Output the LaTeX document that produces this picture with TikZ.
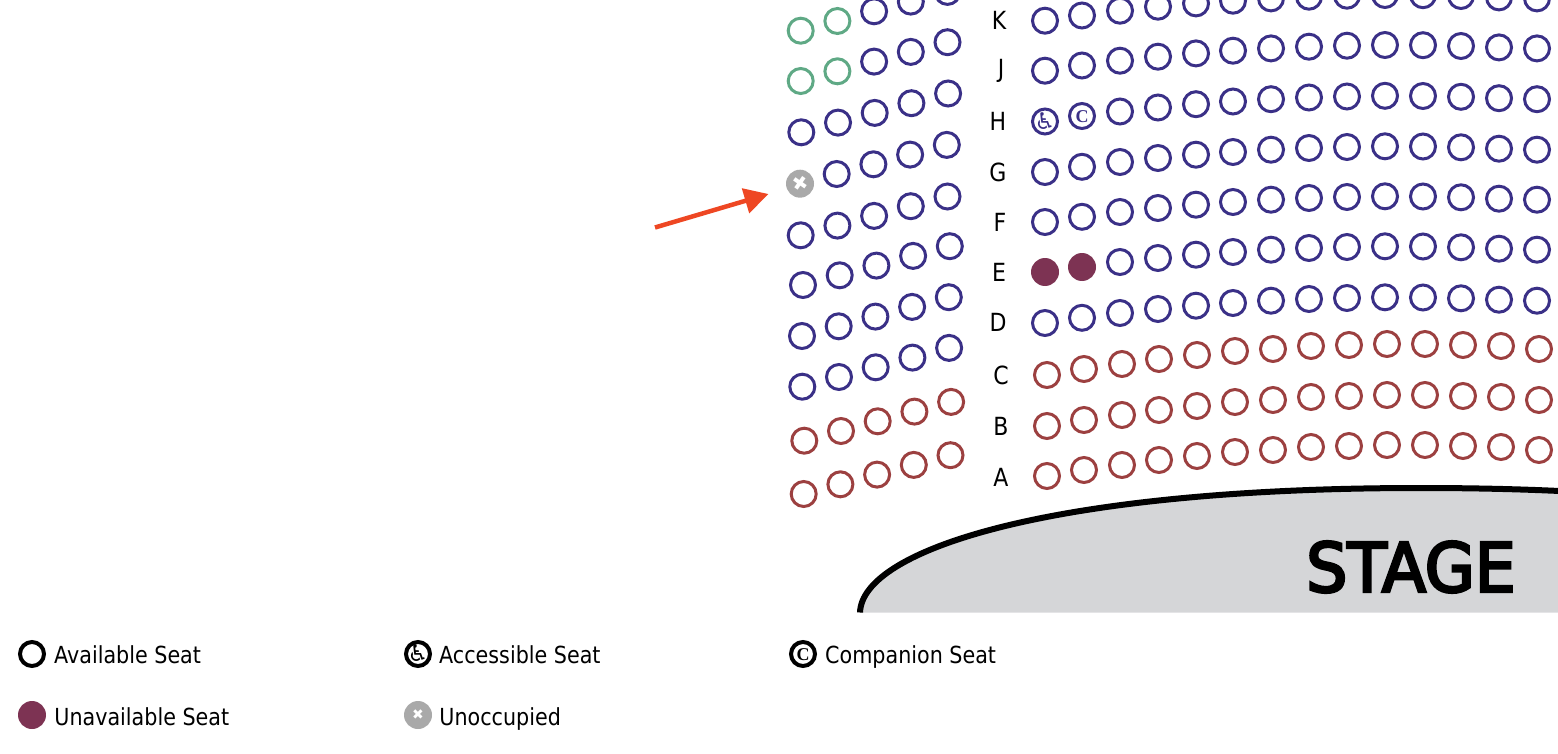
\documentclass[tikz,border=0pt]{standalone}
\usepackage{fontspec}
\setmainfont[FakeStretch=0.88]{DejaVu Sans}
\newfontfamily\symbfont{DejaVu Sans}
\newfontfamily\compfont{Liberation Serif}
\newfontfamily\stagefont[FakeStretch=0.95, FakeBold=4]{DejaVu Sans}
\usetikzlibrary{arrows.meta, positioning}
\definecolor{seatblue}{HTML}{3A3087}
\definecolor{seatred}{HTML}{9C4040}
\definecolor{seatgreen}{HTML}{5FA985}
\definecolor{seatmaroon}{HTML}{7D3353}
\definecolor{seatgrey}{HTML}{A9A9A9}
\definecolor{stagegrey}{HTML}{D5D6D8}
\definecolor{arrowred}{HTML}{EE4723}
\newcommand{\seaticon}[1]{\raisebox{-0.34em}[0pt][0pt]{\makebox[0pt]{#1}}}
\tikzstyle{every node}=[font=\fontsize{23.5}{27}\selectfont]
\tikzstyle{seat}=[circle, draw, line width=3pt, minimum size=25pt, inner sep=0pt]
\tikzstyle{keyseat}=[seat, line width=4pt, minimum size=24pt]
\tikzstyle{fullseat}=[circle, fill=seatmaroon, minimum size=28pt, inner sep=0pt]
\tikzstyle{freeseat}=[circle, fill=seatgrey, text=white, minimum size=28pt, inner sep=0pt, font=\symbfont\fontsize{19}{19}\selectfont]
\tikzstyle{wheel}=[font=\symbfont\fontsize{23}{23}\selectfont]
\tikzstyle{comp}=[font=\compfont\bfseries\fontsize{18}{18}\selectfont]
\tikzstyle{rowlabel}=[font=\fontsize{25}{28}\selectfont]
\tikzstyle{legend}=[text height=19pt, text depth=0pt, inner sep=0pt]

\begin{document}
\begin{tikzpicture}[x=1pt, y=-1pt]
  \useasboundingbox (0,0) rectangle (1558,754);
  % stage
  \fill[stagegrey] (860,612.5) .. controls (862,550) and (1050,488) .. (1420,488)
    .. controls (1470,488) and (1520,489) .. (1570,491.5) -- (1570,612.5) -- cycle;
  \draw[line width=6pt] (860,612.5) .. controls (862,550) and (1050,488) .. (1420,488)
    .. controls (1470,488) and (1520,489) .. (1570,491.5);
  \node[font=\stagefont\fontsize{68}{72}\selectfont] (stage) at (1411,567) {STAGE};
  % left block
  \foreach \r/\x/\y/\c/\g/\first in {1/800.7/30.7/seatblue/2/1, 2/800.7/81/seatblue/2/1, 3/801.3/132.3/seatblue/0/1,
    4/800/183.7/seatblue/0/2, 5/800.7/235.3/seatblue/0/1, 6/803/285/seatblue/0/1, 7/802/336/seatblue/0/1,
    8/802.3/386.7/seatblue/0/1, 9/804.3/440.7/seatred/0/1, 10/803.7/494/seatred/0/1}
    \foreach \n in {1,...,5} {
      \ifnum\n>\g \def\col{\c}\else \def\col{seatgreen}\fi
      \ifnum\n<\first\else
        \node[seat, draw=\col] (L\r-\n) at ({\x+36.7*(\n-1)},{\y-9.7*(\n-1)}) {};
      \fi
    }
  \node[freeseat] (L4-1) at (800,183.7) {\rotatebox{10}{✖}};
  % blue rows
  \foreach \r/\y/\first in {K/20.7/1, J/70.7/1, H/121.5/3, G/172/1, F/222/1, E/272/3, D/323/1}
    \foreach \n/\dx/\dy in {1/0/0, 2/37/-5.2, 3/75/-10, 4/113/-14, 5/151/-17.3, 6/188/-20, 7/226/-22.3,
      8/264/-24, 9/302/-25, 10/340/-25.7, 11/378/-25.5, 12/416/-24.7, 13/454/-23.3, 14/492/-22.3} {
      \ifnum\n<\first\else
        \node[seat, draw=seatblue] (\r\n) at (1045+\dx,\y+\dy) {};
      \fi
    }
  % red rows
  \foreach \r/\y in {C/375, B/426, A/476}
    \foreach \n/\dx/\dy in {1/0/0, 2/37/-6, 3/75/-11, 4/112/-16, 5/150/-20, 6/188/-24, 7/226/-26,
      8/264/-29, 9/302/-30, 10/340/-31, 11/378/-31, 12/416/-30, 13/454/-29, 14/492/-26}
      \node[seat, draw=seatred] (\r\n) at (1047+\dx,\y+\dy) {};
  \node[seat, wheel, draw=seatblue, text=seatblue] (H1) at (1045,121.5) {\seaticon{♿}};
  \node[seat, comp, draw=seatblue, text=seatblue] (H2) at (1082,116) {\seaticon{C}};
  \node[fullseat] (E1) at (1045,272) {};
  \node[fullseat] (E2) at (1082,267) {};
  % row names
  \foreach \r/\x/\y in {K/999/20.5, J/1001/70.5, H/998/121.5, G/998/172.5, F/1000/222.5, E/999/272.5,
    D/998/322.5, C/1001/375.5, B/1001/426.5, A/1001/477.5}
    \node[rowlabel] (label\r) at (\x,\y) {\r};
  % arrow
  \coordinate (tail) at (655,227.5);
  \coordinate (tip) at (768.5,194);
  \draw[-{Triangle[length=24pt, width=25pt]}, line width=4.5pt, draw=arrowred, fill=arrowred] (tail) -- (tip);
  % legend
  \node[keyseat, draw=black] (availicon) at (32,654) {};
  \node[legend, right=8pt of availicon] (availtext) {Available Seat};
  \node[keyseat, wheel, draw=black] (accesicon) at (418,654) {\seaticon{♿}};
  \node[legend, right=7pt of accesicon] (accestext) {Accessible Seat};
  \node[keyseat, comp, draw=black] (compicon) at (803,654) {\seaticon{C}};
  \node[legend, right=8pt of compicon] (comptext) {Companion Seat};
  \node[fullseat] (fullicon) at (32,715) {};
  \node[legend, right=8pt of fullicon, yshift=-1pt] (fulltext) {Unavailable Seat};
  \node[freeseat, font=\symbfont\fontsize{14}{14}\selectfont] (freeicon) at (418,715) {✖};
  \node[legend, right=7pt of freeicon, yshift=-1pt] (freetext) {Unoccupied};
\end{tikzpicture}
\end{document}
